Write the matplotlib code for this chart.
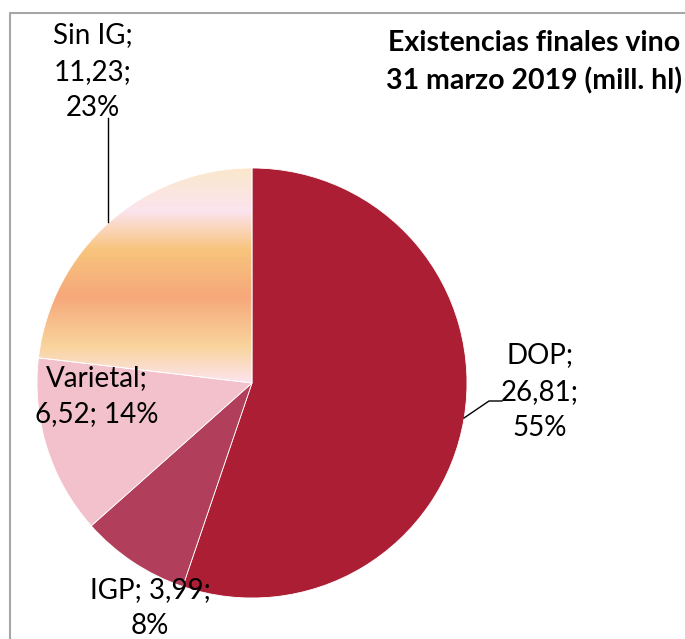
import matplotlib.pyplot as plt
import numpy as np
from matplotlib.colors import LinearSegmentedColormap

categories = ['DOP', 'IGP', 'Varietal', 'Sin IG']
values = [26.81, 3.99, 6.52, 11.23]
pct_labels = ['55%', '8%', '14%', '23%']
colors = ['#AC1E34', '#B13E5A', '#F2C1CB', 'none']

W, H = 685, 639
plt.rcParams['font.family'] = ['Lato', 'DejaVu Sans']

fig = plt.figure(figsize=(W / 100, H / 100), dpi=100)
ax = fig.add_axes([0, 0, 1, 1])

cx, cy, r = 252, H - 383, 215
wedges, _ = ax.pie(values, colors=colors, startangle=90, counterclock=False,
                   center=(cx, cy), radius=r, frame=True,
                   wedgeprops=dict(edgecolor='white', linewidth=0.6))
ax.set_xlim(0, W)
ax.set_ylim(0, H)
ax.set_aspect('equal')
ax.axis('off')

# gradient fill for "Sin IG"
grad = LinearSegmentedColormap.from_list('sinig', [
    (0.0, '#FAE8CC'), (0.2, '#FCE4EE'), (0.38, '#F8C47C'),
    (0.6, '#F6A87A'), (0.83, '#F9D49C'), (1.0, '#FCE4EE')])
img = ax.imshow(np.linspace(0, 1, 256).reshape(-1, 1), cmap=grad, aspect='auto',
                extent=(cx - r, cx, cy, cy + r), origin='upper', zorder=0.5)
img.set_clip_path(wedges[3])

# labels
fs = 20
def label(x, y, txt):
    ax.text(x, H - y, txt, ha='center', va='center', fontsize=fs,
            linespacing=1.5, color='black')

label(540, 392, f'{categories[0]};\n{values[0]:.2f};\n{pct_labels[0]}'.replace('.', ','))
label(150, 608, f'{categories[1]}; {values[1]:.2f};\n{pct_labels[1]}'.replace('.', ','))
label(97, 396, f'{categories[2]};\n{values[2]:.2f}; {pct_labels[2]}'.replace('.', ','))
label(93, 72, f'{categories[3]};\n{values[3]:.2f};\n{pct_labels[3]}'.replace('.', ','))

# leader lines
ax.plot([108, 108], [H - 118, H - 222], color='black', lw=1)
ax.plot([464, 489, 502], [H - 418, H - 401, H - 401], color='black', lw=1)

# title
ax.text(534, H - 62, 'Existencias finales vino\n31 marzo 2019 (mill. hl)',
        ha='center', va='center', fontsize=20.5, fontweight='bold', linespacing=1.5)

# chart border (left and top visible)
ax.plot([10, 10, W + 5], [-5, H - 13, H - 13], color='#A6A6A6', lw=1.5,
        clip_on=False)

fig.savefig('out.png', dpi=100)
